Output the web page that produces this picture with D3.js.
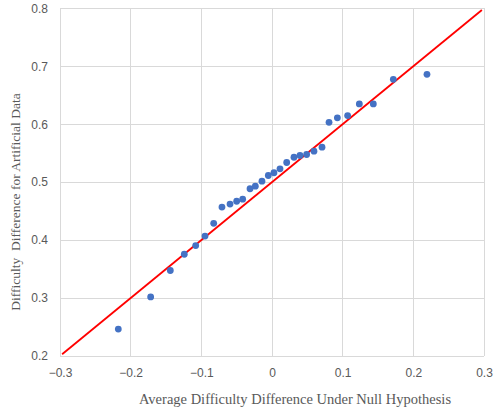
<!DOCTYPE html>
<html><head><meta charset="utf-8">
<script src="https://cdn.jsdelivr.net/npm/d3@7"></script>
<style>body{margin:0;background:#fff}svg{display:block}</style>
</head><body>
<svg id="c" width="493" height="411"></svg>
<script>
const xVals = [-0.2175,-0.1717,-0.1439,-0.1241,-0.108,-0.0948,-0.0825,-0.0708,-0.0594,-0.05,-0.0415,-0.0311,-0.0236,-0.0142,-0.0052,0.0028,0.0113,0.0208,0.0311,0.0396,0.049,0.0594,0.0708,0.0807,0.0925,0.107,0.1236,0.1434,0.1717,0.2193];
const yVals = [0.2465,0.302,0.3475,0.3756,0.3905,0.407,0.4289,0.457,0.4621,0.467,0.4707,0.4886,0.4931,0.5017,0.5115,0.5162,0.523,0.5339,0.543,0.546,0.5477,0.5534,0.5603,0.6033,0.611,0.6148,0.635,0.635,0.6775,0.686];
const lineX = [-0.297, 0.297];
const lineY = [0.203, 0.797];
const xTicks = [-0.3,-0.2,-0.1,0,0.1,0.2,0.3];
const yTicks = [0.2,0.3,0.4,0.5,0.6,0.7,0.8];
const xTitle = "Average Difficulty Difference Under Null Hypothesis";
const yTitle = "Difficulty  Difference for Artificial Data";

const svg = d3.select("#c");
const x = d3.scaleLinear().domain([-0.3,0.3]).range([60,484]);
const y = d3.scaleLinear().domain([0.2,0.8]).range([356,8.3]);
const grid = "#d9d9d9", tc = "#595959";

svg.append("g").selectAll("line").data(xTicks).join("line")
  .attr("x1",d=>x(d)).attr("x2",d=>x(d)).attr("y1",y(0.2)).attr("y2",y(0.8))
  .attr("stroke",grid).attr("stroke-width",1).attr("shape-rendering","crispEdges");
svg.append("g").selectAll("line").data(yTicks).join("line")
  .attr("y1",d=>y(d)).attr("y2",d=>y(d)).attr("x1",x(-0.3)).attr("x2",x(0.3))
  .attr("stroke",grid).attr("stroke-width",1).attr("shape-rendering","crispEdges");

const xa = svg.append("g").attr("transform",`translate(0,${y(0.2)})`)
  .call(d3.axisBottom(x).tickValues(xTicks).tickSize(0).tickPadding(12).tickFormat(d=>d===0?"0":d3.format(".1f")(d)));
const ya = svg.append("g").attr("transform",`translate(${x(-0.3)},0)`)
  .call(d3.axisLeft(y).tickValues(yTicks).tickSize(0).tickPadding(12).tickFormat(d3.format(".1f")));
[xa,ya].forEach(a=>{a.select(".domain").remove();
  a.selectAll("text").attr("fill",tc).style("font-family","Liberation Sans, Arial, sans-serif").style("font-size","12px");});

svg.append("line").attr("x1",x(lineX[0])).attr("y1",y(lineY[0])).attr("x2",x(lineX[1])).attr("y2",y(lineY[1]))
  .attr("stroke","#ff0000").attr("stroke-width",1.8);

svg.append("g").selectAll("circle").data(xVals).join("circle")
  .attr("cx",d=>x(d)).attr("cy",(d,i)=>y(yVals[i])).attr("r",3.4).attr("fill","#4472c4");

svg.append("text").attr("x",295).attr("y",404).attr("text-anchor","middle")
  .attr("fill",tc).style("font-family","Liberation Serif, Times New Roman, serif").style("font-size","14.5px")
  .style("white-space","pre").text(xTitle);
svg.append("text").attr("transform","translate(20,202) rotate(-90)").attr("text-anchor","middle")
  .attr("fill",tc).style("font-family","Liberation Serif, Times New Roman, serif").style("font-size","13.5px")
  .style("white-space","pre").text(yTitle);
</script>
</body></html>
